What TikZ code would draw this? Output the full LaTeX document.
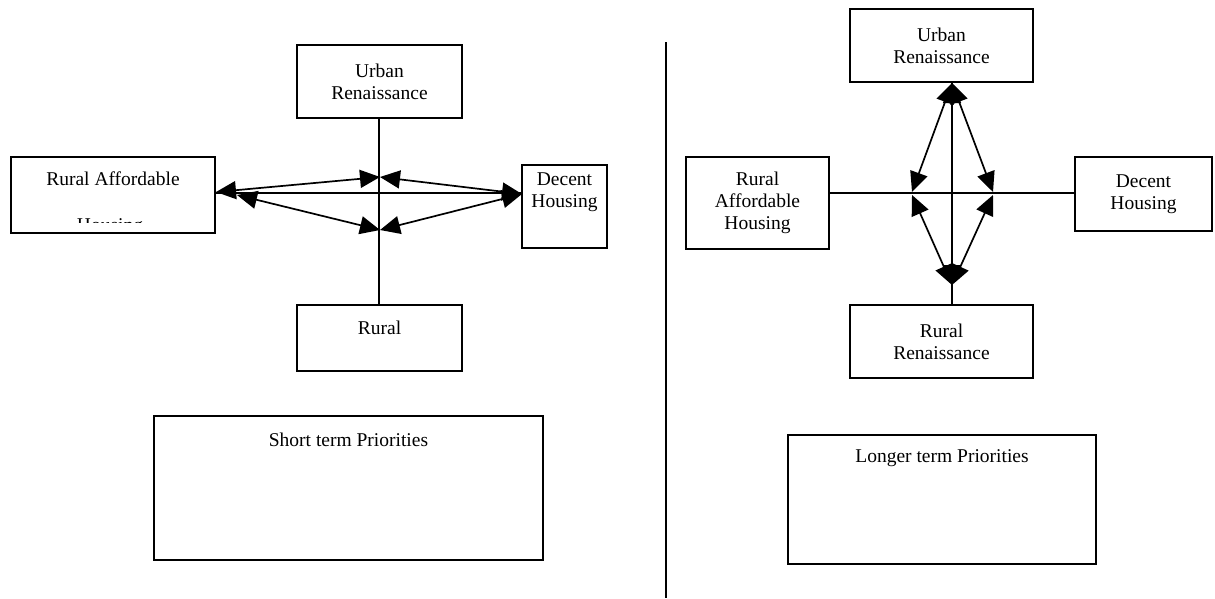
\documentclass[tikz,border=0pt]{standalone}
\usepackage{fontspec}
\setmainfont{Liberation Serif}
\usetikzlibrary{arrows.meta}
\begin{document}
\begin{tikzpicture}[x=1pt,y=-1pt,
  box/.style={draw, line width=1.7pt, rectangle, inner sep=0pt, align=center, font=\fontsize{19.5}{22}\selectfont},
  tx/.style={font=\fontsize{19.5}{22}\selectfont, align=center, inner sep=0pt},
  conn/.style={line width=1.7pt},
  dbl/.style={line width=1.7pt, {Triangle[length=20pt,width=18pt]}-{Triangle[length=20pt,width=18pt]}}]
\useasboundingbox (0,0) rectangle (1215,598);

% ---------- left diagram ----------
\node[box, minimum width=165pt, minimum height=73pt] (lur) at (379.5,81.5) {Urban\\Renaissance};
\node[box, minimum width=204pt, minimum height=76pt] (lra) at (113,195) {};
\node[tx] (lratx) at (113,179) {Rural Affordable};
\begin{scope}
  \clip (11,157) rectangle (215,222);
  \node[tx, anchor=base] (lratx2) at (110,231) {Housing};
\end{scope}
\node[box, minimum width=85pt, minimum height=83pt] (ldh) at (564.5,206.5) {};
\node[tx] (ldhtx) at (564.5,192.5) {Decent\\Housing};
\node[box, minimum width=165pt, minimum height=66pt] (lrr) at (379.5,338) {};
\node[tx] (lrrtx) at (379.5,328) {Rural};
\node[box, minimum width=389pt, minimum height=144pt] (st) at (348.5,488) {};
\node[tx] (sttx) at (348.5,440) {Short term Priorities};

\coordinate (lc) at (379,193);
\coordinate (lt) at (380,177);
\coordinate (lb) at (380,230);
\coordinate (la1) at (216,192);
\coordinate (la2) at (237,195);
\coordinate (lr) at (522,194);

\draw[conn] (lur.south -| lc) -- (lrr.north -| lc);
\draw[conn] (lra.east |- lc) -- (ldh.west |- lc);
\draw[dbl] (la1) -- (lt);
\draw[dbl] (lt) -- (lr);
\draw[dbl] (la2) -- (lb);
\draw[dbl] (lb) -- (lr);

% divider
\coordinate (dv1) at (666,42);
\coordinate (dv2) at (666,598);
\draw[line width=1.3pt] (dv1) -- (dv2);

% ---------- right diagram ----------
\node[box, minimum width=183pt, minimum height=73pt] (rur) at (941.5,45.5) {Urban\\Renaissance};
\node[box, minimum width=143pt, minimum height=92pt] (rra) at (757.5,203) {Rural\\Affordable\\Housing};
\node[box, minimum width=137pt, minimum height=74pt] (rdh) at (1143.5,194) {Decent\\Housing};
\node[box, minimum width=183pt, minimum height=73pt] (rrr) at (941.5,341.5) {Rural\\Renaissance};
\node[box, minimum width=308pt, minimum height=129pt] (lg) at (942,499.5) {};
\node[tx] (lgtx) at (942,458) {Longer term Priorities};

\coordinate (rc) at (952,193);
\coordinate (rt) at (952,83);
\coordinate (rb) at (952,285);
\coordinate (rl1) at (912,192);
\coordinate (rr1) at (993,192);
\coordinate (rl2) at (912,195);
\coordinate (rr2) at (993,195);

\draw[conn] (rur.south -| rc) -- (rrr.north -| rc);
\draw[conn] (rra.east |- rc) -- (rdh.west |- rc);
\draw[dbl] (rt) -- (rl1);
\draw[dbl] (rt) -- (rr1);
\draw[dbl] (rt) -- (rb);
\draw[dbl] (rl2) -- (rb);
\draw[dbl] (rr2) -- (rb);
\end{tikzpicture}
\end{document}
